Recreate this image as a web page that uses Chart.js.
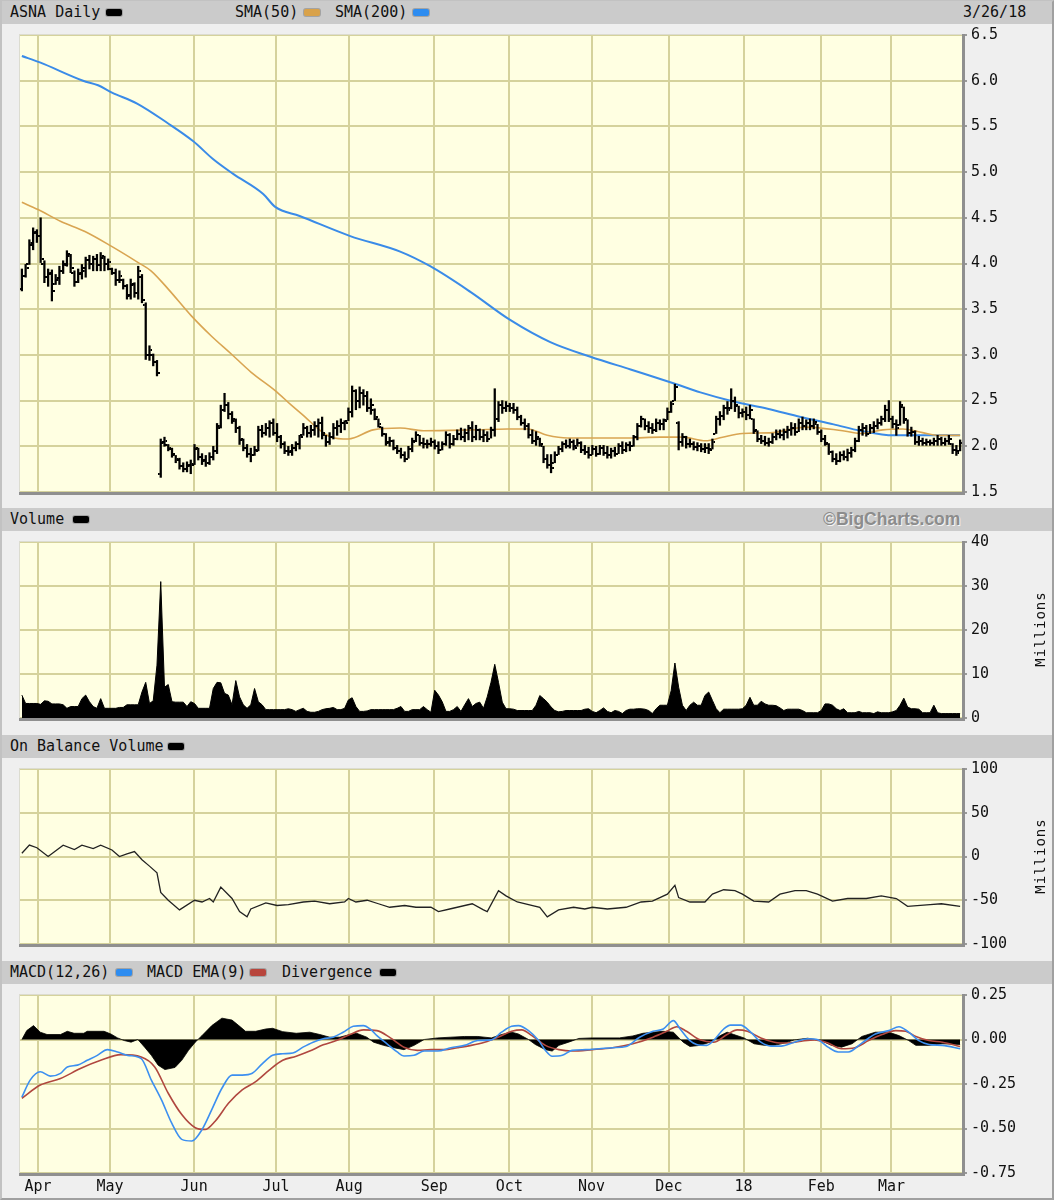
<!DOCTYPE html>
<html><head><meta charset="utf-8">
<script src="https://cdn.jsdelivr.net/npm/chart.js@4.4.1/dist/chart.umd.min.js"></script>
<style>
html,body{margin:0;padding:0;}
body{width:1054px;height:1200px;background:#efefef;position:relative;overflow:hidden;font-family:'DejaVu Sans Mono',monospace;}
.frame{position:absolute;left:0;top:0;width:1050px;height:1196px;border:2px solid #c2c2c2;border-right-color:#a0a0a0;border-bottom-color:#a0a0a0;}
.hdr{position:absolute;left:2px;width:1050px;height:23px;background:#cbcbcb;font-size:15px;line-height:23px;color:#111;}
.hdr span{position:absolute;top:0;white-space:nowrap;}
.sw{position:absolute;top:8px;width:16px;height:7px;border-radius:2px;box-shadow:0 0 0 1px rgba(90,90,90,.35);}
.bc{font-family:'Liberation Sans',Arial,sans-serif;font-weight:bold;color:#8c8c8c;text-shadow:1px 1px 0 #f4f4f4;font-size:17.5px;}
canvas{position:absolute;left:0;}
.mil{position:absolute;width:100px;text-align:center;font-size:14px;color:#111;transform:rotate(-90deg);letter-spacing:1px;}
</style></head>
<body>
<div class="frame"></div>
<div class="hdr" style="top:1px"><span style="left:8px">ASNA Daily</span><div class="sw" style="left:104px;background:#000"></div><span style="left:233px">SMA(50)</span><div class="sw" style="left:302px;background:#d9a24a"></div><span style="left:333px">SMA(200)</span><div class="sw" style="left:411px;background:#2d8cf0"></div><span style="left:961px">3/26/18</span></div>
<div class="hdr" style="top:508px"><span style="left:8px">Volume</span><div class="sw" style="left:71px;background:#000"></div><span class="bc" style="left:821px">©BigCharts.com</span></div>
<div class="hdr" style="top:735px"><span style="left:8px">On Balance Volume</span><div class="sw" style="left:166px;background:#000"></div></div>
<div class="hdr" style="top:961px"><span style="left:8px">MACD(12,26)</span><div class="sw" style="left:114px;background:#2d8cf0"></div><span style="left:145px">MACD EMA(9)</span><div class="sw" style="left:248px;background:#b8453c"></div><span style="left:280px">Divergence</span><div class="sw" style="left:378px;background:#000"></div></div>
<canvas id="cPrice" width="1054" height="483" style="top:22px"></canvas>
<canvas id="cVol" width="1054" height="202" style="top:529px"></canvas>
<canvas id="cObv" width="1054" height="201" style="top:756px"></canvas>
<canvas id="cMacd" width="1054" height="213" style="top:982px"></canvas>
<div class="mil" style="left:990px;top:621px">Millions</div>
<div class="mil" style="left:990px;top:848px">Millions</div>
<script>
// ---- x axis: trading-day index 0..250 (27 Mar 2017 .. 26 Mar 2018)
const monthPos = [4.3,23.5,45.9,67.7,87.2,109.9,129.9,151.8,172.4,192.3,213,231.7];
const monthLabels = ['Apr','May','Jun','Jul','Aug','Sep','Oct','Nov','Dec','18','Feb','Mar'];
// ---- y tick labels
const priceTicks = [1.5,2,2.5,3,3.5,4,4.5,5,5.5,6,6.5];
const volTicks = [0,10,20,30,40];
const obvTicks = [-100,-50,0,50,100];
const macdTicks = [-0.75,-0.5,-0.25,0,0.25];
// ---- daily OHLC
const hi = [
3.94,3.99,4.26,4.39,4.37,4.50,4.03,3.94,3.93,3.88,
3.97,4.03,4.14,4.10,3.92,3.94,3.99,4.07,4.09,4.08,
4.10,4.12,4.08,4.05,3.95,3.94,3.92,3.83,3.77,3.83,
3.79,3.97,3.88,3.57,3.10,3.01,2.94,2.08,2.10,2.02,
1.98,1.90,1.87,1.82,1.83,1.85,2.02,1.98,1.92,1.90,
1.93,2.00,2.25,2.45,2.58,2.48,2.38,2.30,2.22,2.08,
2.02,1.98,2.00,2.22,2.23,2.25,2.28,2.30,2.25,2.12,
2.05,2.00,2.02,2.05,2.12,2.25,2.22,2.23,2.27,2.30,
2.32,2.12,2.15,2.25,2.28,2.30,2.28,2.42,2.66,2.62,
2.65,2.62,2.60,2.52,2.41,2.30,2.21,2.14,2.10,2.07,
2.01,1.98,1.94,2.00,2.09,2.16,2.12,2.09,2.07,2.09,
2.07,2.05,2.05,2.16,2.14,2.12,2.18,2.20,2.19,2.23,
2.27,2.23,2.19,2.18,2.16,2.21,2.63,2.49,2.50,2.49,
2.47,2.47,2.43,2.34,2.30,2.25,2.18,2.16,2.09,2.00,
1.91,1.91,1.94,2.00,2.05,2.07,2.08,2.07,2.08,2.05,
2.01,1.99,2.01,2.00,2.01,2.01,2.00,1.98,1.99,2.03,
2.05,2.04,2.05,2.12,2.25,2.33,2.30,2.27,2.25,2.30,
2.29,2.30,2.42,2.49,2.68,2.27,2.14,2.11,2.08,2.05,
2.04,2.03,2.03,2.03,2.08,2.33,2.38,2.45,2.49,2.63,
2.54,2.44,2.41,2.43,2.45,2.30,2.17,2.12,2.11,2.09,
2.14,2.18,2.18,2.19,2.22,2.26,2.25,2.30,2.32,2.29,
2.30,2.30,2.24,2.18,2.12,2.03,1.95,1.92,1.94,1.95,
1.97,1.99,2.09,2.22,2.25,2.23,2.24,2.27,2.30,2.33,
2.45,2.50,2.33,2.29,2.49,2.43,2.29,2.21,2.17,2.11,
2.09,2.08,2.07,2.09,2.12,2.10,2.09,2.12,2.03,2.01,
2.07];
const lo = [
3.70,3.85,3.99,4.15,4.23,4.01,3.79,3.75,3.59,3.77,
3.77,3.89,3.97,3.90,3.75,3.79,3.83,3.85,3.94,3.92,
3.92,3.92,3.92,3.93,3.88,3.76,3.79,3.72,3.61,3.61,
3.63,3.61,3.57,2.95,2.94,2.88,2.77,1.66,2.00,1.95,
1.88,1.82,1.75,1.72,1.72,1.70,1.80,1.85,1.80,1.78,
1.80,1.85,1.92,2.20,2.38,2.30,2.25,2.15,2.02,1.95,
1.88,1.83,1.90,1.95,2.10,2.12,2.10,2.12,2.05,1.98,
1.92,1.90,1.90,1.95,1.97,2.12,2.10,2.10,2.12,2.10,
2.08,2.00,2.02,2.08,2.12,2.15,2.18,2.28,2.32,2.40,
2.42,2.45,2.38,2.35,2.29,2.21,2.11,2.01,2.00,1.96,
1.92,1.87,1.83,1.87,1.94,2.05,2.01,1.98,1.98,2.00,
1.97,1.92,1.96,2.01,1.98,2.01,2.07,2.07,2.05,2.07,
2.05,2.07,2.07,2.05,2.05,2.09,2.11,2.27,2.36,2.38,
2.38,2.36,2.29,2.23,2.18,2.09,2.03,2.01,2.00,1.82,
1.76,1.71,1.82,1.91,1.94,1.98,1.98,1.96,2.00,1.93,
1.91,1.87,1.91,1.89,1.91,1.90,1.87,1.87,1.89,1.92,
1.92,1.94,1.95,2.00,2.07,2.21,2.18,2.15,2.14,2.16,
2.18,2.18,2.29,2.37,2.50,1.96,2.00,1.98,1.99,1.96,
1.95,1.94,1.93,1.92,1.97,2.14,2.23,2.29,2.35,2.41,
2.38,2.31,2.32,2.29,2.30,2.14,2.05,2.03,2.01,2.00,
2.03,2.07,2.09,2.07,2.09,2.12,2.12,2.16,2.18,2.18,
2.18,2.19,2.13,2.05,2.01,1.91,1.83,1.80,1.83,1.85,
1.84,1.88,1.94,2.05,2.12,2.11,2.14,2.15,2.19,2.23,
2.27,2.27,2.20,2.12,2.23,2.25,2.11,2.11,2.02,2.01,
2.01,2.01,2.01,2.01,2.01,2.01,2.01,2.02,1.92,1.90,
1.95];
const op = [
3.72,3.86,4.00,4.20,4.33,4.30,4.00,3.85,3.88,3.78,
3.82,3.92,4.00,4.08,3.90,3.80,3.88,3.92,4.04,4.00,
4.05,3.98,4.06,4.00,3.94,3.90,3.82,3.82,3.75,3.64,
3.76,3.68,3.85,3.55,3.00,3.00,2.92,1.70,2.04,2.01,
1.97,1.90,1.86,1.78,1.75,1.78,1.81,1.97,1.88,1.84,
1.82,1.88,1.95,2.22,2.40,2.45,2.35,2.28,2.20,2.07,
1.98,1.92,1.90,1.96,2.18,2.15,2.20,2.25,2.15,2.10,
2.02,1.95,1.94,1.98,2.02,2.12,2.20,2.15,2.18,2.22,
2.25,2.12,2.05,2.10,2.20,2.22,2.25,2.28,2.38,2.60,
2.50,2.58,2.55,2.42,2.40,2.30,2.21,2.14,2.04,2.06,
1.98,1.95,1.90,1.86,1.97,2.06,2.12,2.04,2.02,2.03,
2.05,2.00,1.96,2.02,2.12,2.02,2.08,2.14,2.10,2.15,
2.20,2.10,2.18,2.10,2.12,2.08,2.18,2.30,2.45,2.42,
2.44,2.42,2.40,2.32,2.26,2.22,2.12,2.06,2.08,2.00,
1.86,1.80,1.82,1.91,1.97,2.02,2.00,2.05,2.00,2.04,
1.96,1.94,1.91,1.97,1.92,1.98,1.93,1.90,1.95,1.92,
2.00,1.96,2.01,2.00,2.10,2.22,2.30,2.22,2.20,2.18,
2.26,2.24,2.29,2.38,2.50,2.25,2.05,2.10,2.02,2.03,
1.99,2.00,1.97,1.98,1.97,2.14,2.30,2.33,2.42,2.42,
2.50,2.44,2.36,2.38,2.34,2.30,2.17,2.08,2.06,2.04,
2.05,2.10,2.14,2.12,2.16,2.18,2.20,2.16,2.26,2.22,
2.25,2.22,2.24,2.16,2.08,2.03,1.94,1.86,1.84,1.90,
1.88,1.93,1.96,2.06,2.18,2.20,2.14,2.20,2.22,2.26,
2.30,2.40,2.30,2.24,2.23,2.43,2.29,2.15,2.16,2.05,
2.06,2.04,2.05,2.04,2.06,2.08,2.04,2.06,2.03,1.96,
1.95];
const cl = [
3.86,3.95,4.22,4.34,4.30,4.05,3.85,3.90,3.70,3.84,
3.92,3.98,4.10,3.95,3.80,3.90,3.95,4.04,4.00,4.05,
3.98,4.08,4.00,4.02,3.90,3.82,3.86,3.75,3.65,3.78,
3.68,3.92,3.60,3.00,3.05,2.92,2.80,2.05,2.06,1.98,
1.92,1.85,1.78,1.75,1.79,1.80,1.98,1.88,1.85,1.82,
1.88,1.95,2.20,2.40,2.45,2.35,2.30,2.20,2.08,1.98,
1.92,1.90,1.95,2.18,2.15,2.20,2.25,2.15,2.10,2.02,
1.95,1.95,1.98,2.02,2.10,2.20,2.15,2.18,2.22,2.25,
2.15,2.05,2.10,2.20,2.22,2.25,2.25,2.38,2.60,2.50,
2.58,2.55,2.42,2.45,2.32,2.24,2.14,2.05,2.06,1.98,
1.95,1.90,1.86,1.97,2.05,2.12,2.04,2.02,2.03,2.05,
2.00,1.96,2.02,2.12,2.02,2.08,2.14,2.10,2.15,2.20,
2.10,2.18,2.10,2.12,2.08,2.18,2.30,2.45,2.42,2.44,
2.42,2.40,2.32,2.26,2.22,2.12,2.06,2.10,2.02,1.86,
1.80,1.76,1.90,1.97,2.02,2.00,2.05,1.98,2.04,1.96,
1.94,1.90,1.97,1.92,1.98,1.93,1.90,1.95,1.92,2.00,
1.96,2.01,2.00,2.10,2.22,2.30,2.22,2.20,2.18,2.26,
2.24,2.28,2.38,2.46,2.65,2.05,2.10,2.02,2.03,1.99,
2.00,1.97,1.98,1.96,2.05,2.30,2.33,2.42,2.40,2.50,
2.45,2.36,2.38,2.34,2.40,2.18,2.08,2.06,2.04,2.05,
2.10,2.14,2.12,2.16,2.18,2.20,2.16,2.26,2.22,2.25,
2.22,2.27,2.16,2.08,2.04,1.94,1.86,1.84,1.90,1.88,
1.93,1.96,2.06,2.18,2.20,2.14,2.20,2.22,2.26,2.30,
2.40,2.30,2.24,2.20,2.45,2.30,2.15,2.16,2.05,2.06,
2.04,2.05,2.04,2.06,2.08,2.04,2.06,2.08,1.96,1.93,
2.04];
// ---- moving averages (read at sample days)
const sma50Day = [0,4.3,10.4,16.8,23.8,31,34.4,39,45.1,50.4,55.8,61.1,67.5,71.8,75.5,79,82.4,87,93.6,100.8,107,120.3,129.4,134.7,140,145.4,161.4,170.2,176,182.2,186.7,192,200,208.8,218.7,224,229.4,234.7,240,244.3,250];
const sma50Val = [4.67,4.59,4.46,4.35,4.19,4.01,3.92,3.72,3.43,3.21,3.01,2.81,2.61,2.45,2.32,2.19,2.10,2.08,2.18,2.20,2.17,2.18,2.19,2.19,2.12,2.09,2.09,2.10,2.10,2.06,2.10,2.14,2.15,2.21,2.17,2.14,2.18,2.19,2.15,2.12,2.12];
const sma200Day = [0,4.8,16.3,20.3,24,30.7,38.7,45.6,51,56.3,64.3,67.5,74,87.5,100.8,108.8,119.5,130.2,140.8,151.5,162.2,173.6,180.8,189.6,198.7,207.5,216.3,223.5,232.3,250];
const sma200Val = [6.27,6.20,6.00,5.95,5.87,5.75,5.54,5.34,5.14,4.98,4.76,4.62,4.52,4.30,4.13,3.97,3.69,3.38,3.14,2.98,2.84,2.69,2.59,2.49,2.41,2.32,2.24,2.17,2.12,2.12];
// ---- daily volume (millions)
const vol = [
5.2,3.3,3.3,3.3,3.3,3.1,3.9,3.8,3.2,3.2,
3.2,3.0,2.2,2.6,2.6,2.6,4.4,5.2,3.7,2.6,
2.2,4.4,2.2,2.2,2.2,2.2,2.4,2.4,3.0,3.0,
3.0,3.0,5.9,8.1,3.3,3.9,12.0,31.0,7.0,7.6,
3.7,3.6,3.6,3.6,2.6,3.7,3.3,2.2,2.2,2.2,
2.2,6.7,8.1,8.0,5.6,5.2,3.0,8.5,4.8,3.0,
2.2,3.0,6.7,3.7,3.0,1.9,1.9,1.9,1.9,1.9,
1.9,2.1,1.9,1.5,1.9,2.2,1.5,1.3,1.3,1.5,
1.9,2.1,2.2,2.4,1.9,1.9,2.2,4.1,4.6,2.6,
1.5,1.5,1.6,1.9,1.9,1.9,1.9,1.9,1.9,1.9,
2.2,2.6,1.5,1.5,1.9,1.9,1.9,2.6,1.9,1.3,
6.3,5.2,3.7,1.5,1.5,1.9,2.6,1.5,3.0,4.4,
2.6,3.3,3.6,2.2,4.8,8.1,12.2,8.1,3.6,2.1,
2.1,2.0,1.7,1.7,1.7,1.7,1.7,2.9,5.1,4.4,
3.6,2.5,1.7,1.4,1.5,1.7,1.7,1.7,1.7,1.7,
2.0,2.1,1.5,1.2,1.7,2.3,1.5,1.2,1.7,1.5,
1.0,1.7,2.0,2.0,2.1,2.1,2.0,1.7,1.0,2.1,
2.9,2.9,2.9,6.2,12.5,7.0,2.9,1.7,2.9,3.6,
2.9,2.9,5.1,5.9,4.0,2.1,1.2,2.0,2.0,2.0,
2.0,2.0,2.1,2.9,4.7,2.9,2.9,3.8,3.2,2.9,
2.9,2.8,2.3,1.7,2.0,2.0,2.0,2.0,1.7,1.2,
1.2,1.2,1.2,1.7,3.2,3.2,2.9,2.1,1.7,2.1,
1.2,1.2,1.2,1.5,1.2,1.2,1.2,1.0,1.4,1.2,
1.2,1.2,1.4,1.7,2.9,4.5,2.5,2.1,2.1,2.0,
1.2,1.2,1.2,2.9,1.2,1.0,1.0,1.0,1.0,1.0,
1.0];
// ---- on balance volume (millions)
const obvDay = [0,2,4,7,11,14,16,19,21,24,26,28,30,32,34,36,37,39,42,46,48,50,51,53,56,58,60,61,65,68,71,75,78,82,86,87,89,92,95,98,102,105,109,111,114,120,123,124,127,129,132,138,140,143,147,150,152,156,161,165,168,172,174,175,178,182,184,187,190,192,195,199,202,206,209,212,216,220,225,229,233,236,242,245,250];
const obvVal = [3.7,13,10,0,13,8,13,9,13,7.4,0,3,5.6,-3.7,-11,-18.6,-41,-50,-61,-50,-52,-48,-52,-35,-48,-63,-69,-60,-53,-56,-55,-52,-51,-54,-52,-48,-52,-50,-54,-58,-56,-58,-58,-63,-60,-54,-61,-63,-39,-45,-52,-58,-69,-61,-58,-60,-58,-60,-58,-52,-51,-43,-33,-47,-52,-52,-43,-38,-39,-43,-51,-52,-43,-39,-39,-43,-51,-48,-48,-45,-48,-57,-55,-54,-57];
// ---- MACD
const macdDay = [0,2.2,4.9,7.6,10.3,12.1,14.8,17.4,20.1,22.8,25.5,28.2,31.8,34.5,37.2,39.9,42.6,45.3,48,50.6,53.3,56,58.7,61.4,64.1,66.8,69.5,72.2,74.9,77.6,80.3,82.9,85.6,88.3,91,92.8,94.6,97.3,100,101.8,104.5,107.2,110.8,114.3,117.9,121.5,125.1,127.8,130.5,132.3,135,137.7,139.5,141.3,144,146.6,150.2,153.8,157.4,161,164.6,168.2,170.9,173.6,175.4,178,179.8,182.5,184.3,187,188.8,191.5,194.2,196.9,199.6,202.3,205.9,209.4,212.1,214.8,217.5,220.2,223.8,227.4,231,233.7,236.3,239,241.7,245.3,250];
const macdVal = [-0.324,-0.228,-0.181,-0.206,-0.19,-0.154,-0.144,-0.117,-0.089,-0.057,-0.07,-0.089,-0.107,-0.228,-0.339,-0.469,-0.561,-0.57,-0.506,-0.394,-0.274,-0.2,-0.2,-0.19,-0.135,-0.089,-0.08,-0.076,-0.043,-0.015,0.004,0.013,0.041,0.074,0.078,0.059,0.022,-0.024,-0.07,-0.093,-0.089,-0.065,-0.065,-0.046,-0.033,-0.006,-0.002,0.041,0.074,0.078,0.05,-0.006,-0.061,-0.094,-0.089,-0.061,-0.057,-0.052,-0.046,-0.039,0.013,0.046,0.059,0.106,0.059,-0.006,-0.028,-0.033,-0.006,0.059,0.081,0.081,0.041,-0.015,-0.037,-0.037,-0.015,0.004,-0.002,-0.043,-0.07,-0.07,-0.02,0.031,0.05,0.072,0.041,-0.006,-0.028,-0.033,-0.052];
const sigDay = [0,4.9,10.3,15.6,21,26.4,31.8,35.4,39,42.6,46.2,48.8,51.5,55.1,58.7,62.3,65.9,69.5,73.1,76.7,80.3,83.8,87.4,91,94.6,98.2,101.8,105.4,109,112.5,116.1,119.7,123.3,126.9,130.5,133.2,135.9,139.5,143.1,146.6,152,157.4,162.8,168.2,171.8,174.5,177.1,180.7,184.3,187.9,190.6,193.3,196.9,200.5,204.1,207.7,211.2,214.8,218.4,222,225.6,229.2,232.8,235.5,238.2,241.7,245.3,250];
const sigVal = [-0.33,-0.256,-0.219,-0.163,-0.117,-0.085,-0.098,-0.154,-0.302,-0.422,-0.496,-0.506,-0.459,-0.357,-0.283,-0.237,-0.172,-0.117,-0.094,-0.065,-0.03,-0.006,0.028,0.054,0.05,0.009,-0.043,-0.061,-0.057,-0.057,-0.046,-0.033,-0.015,0.013,0.046,0.054,0.022,-0.033,-0.057,-0.065,-0.057,-0.046,-0.024,0.013,0.046,0.072,0.046,-0.002,-0.015,0.028,0.054,0.046,0.009,-0.015,-0.02,-0.009,-0.002,-0.02,-0.052,-0.046,-0.006,0.028,0.05,0.046,0.017,-0.006,-0.015,-0.039];
const divDay = [0,1.3,3.1,4.9,6.7,10.3,12.1,13.9,16.5,17.4,21.9,23.7,25.5,27.3,29.1,30.9,32.7,34.5,36.3,38.1,40.8,42.6,44.4,46.2,48,50.6,53.3,56,57.8,59.6,62.3,65,66.8,69.5,73.1,76.7,79.4,82,84.7,87.4,89.2,91.9,93.7,96.4,99.1,101.8,104.5,107.2,110.8,114.3,117.9,121.5,125.1,127.8,130.5,132.3,135,136.8,139.5,141.3,143.1,145.7,148.4,152,159.2,162.8,165.5,168.2,170.9,173.6,176.2,178,180.7,183.4,186.1,187.9,189.7,192.4,195.1,197.9,200.5,203.2,205.9,209.4,213,215.7,218.4,221.2,223.8,227.4,231,233.7,236.3,238.2,241.7,245.3,250];
const divVal = [0,0.05,0.078,0.041,0.028,0.028,0.046,0.035,0.035,0.046,0.046,0.031,0.009,-0.006,-0.015,0,-0.043,-0.089,-0.144,-0.169,-0.157,-0.117,-0.061,-0.015,0.022,0.078,0.12,0.109,0.078,0.046,0.046,0.059,0.063,0.044,0.035,0.041,0.028,0.013,0.013,0.028,0.035,0.013,-0.015,-0.033,-0.046,-0.057,-0.033,0,0.009,0.013,0.017,0.017,0.009,0.028,0.041,0.031,0,-0.028,-0.057,-0.065,-0.033,-0.015,0.006,0.009,0.009,0.02,0.035,0.041,0.046,0.041,-0.015,-0.039,-0.033,-0.015,0.022,0.041,0.028,0.009,-0.024,-0.033,-0.033,-0.02,-0.002,0.007,-0.006,-0.033,-0.043,-0.024,0.017,0.041,0.041,0.022,-0.006,-0.033,-0.033,-0.024,-0.028];

// ---------------- rendering ----------------
const GRID = '#d5d29c';
const FONT = {family:"'DejaVu Sans Mono', monospace", size:15};
const pairs = (xs, ys) => xs.map((x, i) => ({x, y: ys[i]}));

function tickImg(side){
  const c = document.createElement('canvas'); c.width = 6; c.height = 2;
  const g = c.getContext('2d'); g.fillStyle = '#000';
  if (side === 'L') g.fillRect(0,0,2,2); else g.fillRect(4,0,2,2);
  return c;
}

const panelPlugin = {
  id:'panelBg',
  beforeDraw(c){ const a=c.chartArea, g=c.ctx; g.save(); g.fillStyle='#ffffe2'; g.fillRect(a.left,a.top,a.right-a.left,a.bottom-a.top); g.restore(); },
  afterDraw(c){ const a=c.chartArea, g=c.ctx; g.save();
    g.fillStyle='#dcdcd0'; g.fillRect(a.left-1,a.top-1,a.right-a.left+1,1); g.fillRect(a.left-1,a.top-1,1,a.bottom-a.top+1);
    g.fillStyle='#8f8f8f'; g.fillRect(a.left-1,a.bottom,a.right-a.left+4,3); g.fillRect(a.right,a.top-1,3,a.bottom-a.top+4);
    g.restore(); }
};

function makeChart(id, datasets, y, showX){
  return new Chart(document.getElementById(id), {
    type:'line',
    data:{datasets},
    options:{
      responsive:false, animation:false, devicePixelRatio:1,
      layout:{padding:{left:20,right:0,top:12,bottom:showX?0:12}},
      plugins:{legend:{display:false}, tooltip:{enabled:false}},
      elements:{point:{radius:0}, line:{tension:0}},
      scales:{
        x:{type:'linear', min:-0.5, max:250.5, offset:false,
          afterBuildTicks:s=>{ s.ticks = monthPos.map(v=>({value:v})); },
          afterFit:s=>{ s.height = showX ? 22 : 0; },
          grid:{color:GRID, lineWidth:2, drawTicks:false, offset:false},
          border:{display:false},
          ticks:{display:showX, autoSkip:false, maxRotation:0, minRotation:0, padding:5, color:'#111', font:FONT,
                 callback:(v,i)=>monthLabels[i]}},
        y:{position:'right', min:y.min, max:y.max,
          afterBuildTicks:s=>{ s.ticks = y.ticks.map(v=>({value:v})); },
          afterFit:s=>{ s.width = 92; },
          grid:{color:GRID, lineWidth:2, tickLength:5, tickColor:'#9a9a9a'},
          border:{display:false},
          ticks:{padding:4, color:'#111', font:FONT, callback:y.fmt}}
      }
    },
    plugins:[panelPlugin]
  });
}

// price panel
makeChart('cPrice', [
  {type:'bar', data:hi.map((h,i)=>({x:i, y:[lo[i], h]})), backgroundColor:'#000', barThickness:1.6, order:1},
  {data:op.map((v,i)=>({x:i, y:v})), showLine:false, pointRadius:3, pointStyle:tickImg('L'), order:1},
  {data:cl.map((v,i)=>({x:i, y:v})), showLine:false, pointRadius:3, pointStyle:tickImg('R'), order:1},
  {data:pairs(sma50Day, sma50Val), borderColor:'#d9a552', borderWidth:1.6, pointRadius:0, cubicInterpolationMode:'monotone', order:2},
  {data:pairs(sma200Day, sma200Val), borderColor:'#3a8be8', borderWidth:2, pointRadius:0, cubicInterpolationMode:'monotone', order:2}
], {min:1.5, max:6.5, ticks:priceTicks, fmt:v=>v.toFixed(1)}, false);

// volume panel
makeChart('cVol', [
  {data:vol.map((v,i)=>({x:i, y:v})), borderColor:'#000', borderWidth:1, backgroundColor:'#000', fill:'origin', pointRadius:0}
], {min:0, max:40, ticks:volTicks, fmt:v=>String(v)}, false);

// OBV panel
makeChart('cObv', [
  {data:pairs(obvDay, obvVal), borderColor:'#222', borderWidth:1.3, pointRadius:0}
], {min:-100, max:100, ticks:obvTicks, fmt:v=>String(v)}, false);

// MACD panel
makeChart('cMacd', [
  {data:pairs(macdDay, macdVal), borderColor:'#3c8ff0', borderWidth:1.6, pointRadius:0, cubicInterpolationMode:'monotone', order:1},
  {data:pairs(sigDay, sigVal), borderColor:'#b0473f', borderWidth:1.6, pointRadius:0, cubicInterpolationMode:'monotone', order:2},
  {data:pairs(divDay, divVal), borderColor:'#000', borderWidth:0.8, backgroundColor:'#000', fill:'origin', pointRadius:0, order:3}
], {min:-0.75, max:0.25, ticks:macdTicks, fmt:v=>v.toFixed(2)}, true);
</script>
</body></html>
